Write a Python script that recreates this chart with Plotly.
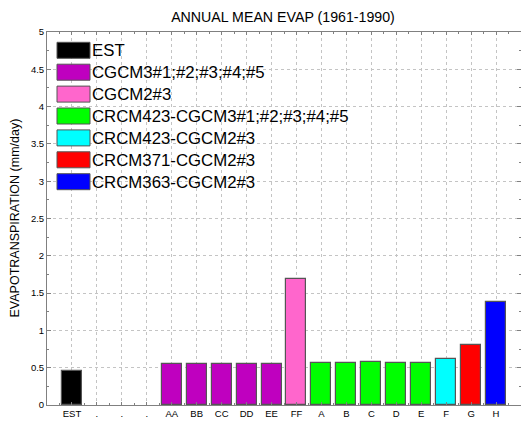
import plotly.graph_objects as go

# ---- data ---------------------------------------------------------------
categories = ["EST", ".", ".", ".", "AA", "BB", "CC", "DD", "EE", "FF",
              "A", "B", "C", "D", "E", "F", "G", "H"]
evap = [0.455, None, None, None, 0.553, 0.553, 0.553, 0.556, 0.545, 1.683,
        0.567, 0.558, 0.572, 0.558, 0.558, 0.621, 0.800, 1.379]
groups = ["EST", None, None, None,
          "CGCM3#1;#2;#3;#4;#5", "CGCM3#1;#2;#3;#4;#5", "CGCM3#1;#2;#3;#4;#5",
          "CGCM3#1;#2;#3;#4;#5", "CGCM3#1;#2;#3;#4;#5",
          "CGCM2#3",
          "CRCM423-CGCM3#1;#2;#3;#4;#5", "CRCM423-CGCM3#1;#2;#3;#4;#5",
          "CRCM423-CGCM3#1;#2;#3;#4;#5", "CRCM423-CGCM3#1;#2;#3;#4;#5",
          "CRCM423-CGCM3#1;#2;#3;#4;#5",
          "CRCM423-CGCM2#3", "CRCM371-CGCM2#3", "CRCM363-CGCM2#3"]
group_names = ["EST", "CGCM3#1;#2;#3;#4;#5", "CGCM2#3",
               "CRCM423-CGCM3#1;#2;#3;#4;#5", "CRCM423-CGCM2#3",
               "CRCM371-CGCM2#3", "CRCM363-CGCM2#3"]
group_colors = ["#000000", "#bf00bf", "#ff66cc", "#00ff00", "#00ffff",
                "#ff0000", "#0000ff"]
y_ticks = [0, 0.5, 1, 1.5, 2, 2.5, 3, 3.5, 4, 4.5, 5]

# ---- page geometry ------------------------------------------------------
W, H = 521, 421
ML, MR, MT, MB = 47, 0, 32, 16
PW, PH = W - ML - MR, H - MT - MB


def px_x(px):
    return (px - ML) / PW


def px_y(py):
    return (H - MB - py) / PH


FONT = "Liberation Sans, Arial, Helvetica, sans-serif"
positions = list(range(len(categories)))

fig = go.Figure()
for name, color in zip(group_names, group_colors):
    xs = [p for p, g in zip(positions, groups) if g == name]
    ys = [v for v, g in zip(evap, groups) if g == name]
    fig.add_trace(go.Bar(
        x=xs, y=ys, name=name, width=0.8,
        marker=dict(color=color, line=dict(color="#555555", width=1.2)),
        showlegend=False,
    ))

# legend drawn as large swatches with labels, upper left of the axes
shapes = []
annotations = []
sw_x0, sw_x1 = 57, 90
sw_top, sw_h, sw_step = 42.3, 16, 21.9
for i, (name, color) in enumerate(zip(group_names, group_colors)):
    top = sw_top + i * sw_step
    shapes.append(dict(
        type="rect", xref="paper", yref="paper",
        x0=px_x(sw_x0), x1=px_x(sw_x1), y0=px_y(top + sw_h), y1=px_y(top),
        fillcolor=color, line=dict(color="#555555", width=1), layer="above",
    ))
    annotations.append(dict(
        xref="paper", yref="paper", x=px_x(89.5), y=px_y(top + sw_h / 2 + 0.5),
        xanchor="left", yanchor="middle", text=name, showarrow=False,
        font=dict(family=FONT, size=16.8, color="black"),
    ))

annotations.append(dict(
    xref="paper", yref="paper", x=px_x(14), y=px_y(218.5), xanchor="center",
    yanchor="middle", textangle=-90, showarrow=False,
    text="EVAPOTRANSPIRATION (mm/day)",
    font=dict(family=FONT, size=12.5, color="black"),
))

fig.update_layout(
    width=W, height=H,
    margin=dict(l=ML, r=MR, t=MT, b=MB, pad=0),
    paper_bgcolor="white", plot_bgcolor="white",
    title=dict(text="ANNUAL MEAN EVAP (1961-1990)", x=px_x(283),
               xref="paper", xanchor="center", y=1 - 17 / H, yanchor="middle",
               font=dict(family=FONT, size=14.2, color="black")),
    bargap=0,
    shapes=shapes,
    annotations=annotations,
    showlegend=False,
)

fig.update_xaxes(
    range=[-1, len(categories)],
    tickmode="array", tickvals=positions, ticktext=categories,
    tickfont=dict(family=FONT, size=9.5, color="black"),
    ticks="inside", ticklen=3, tickcolor="#808080",
    showline=True, linecolor="#808080", linewidth=1, mirror="ticks",
    showgrid=True, gridcolor="#c4c4c4", griddash="dot", gridwidth=1,
    zeroline=False, automargin=False,
    minor=dict(tickmode="array",
               tickvals=[p + 0.5 for p in range(-1, len(categories))],
               ticks="inside", ticklen=2, tickcolor="#808080",
               showgrid=False),
)
fig.update_yaxes(
    range=[0, 5],
    tickmode="array", tickvals=y_ticks,
    ticktext=[f"{v:g}" for v in y_ticks],
    tickfont=dict(family=FONT, size=9.5, color="black"),
    ticks="inside", ticklen=4, tickcolor="#808080",
    showline=True, linecolor="#808080", linewidth=1, mirror="ticks",
    showgrid=True, gridcolor="#c4c4c4", griddash="dot", gridwidth=1,
    zeroline=False, automargin=False,
    minor=dict(tickmode="array",
               tickvals=[v + 0.25 for v in y_ticks[:-1]],
               ticks="inside", ticklen=2, tickcolor="#808080",
               showgrid=False),
)

fig.write_html("out.html")
